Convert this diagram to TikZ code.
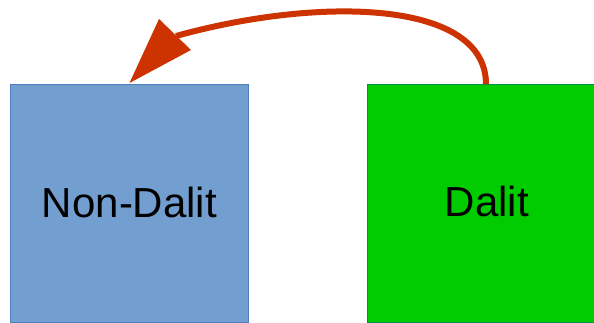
\documentclass[tikz,border=0pt]{standalone}
\usepackage{fontspec}
\setmainfont{Liberation Sans}
\definecolor{boxblue}{RGB}{114,159,207}
\definecolor{boxblueedge}{RGB}{80,125,190}
\definecolor{boxgreen}{RGB}{0,204,0}
\definecolor{arrowred}{RGB}{204,51,0}
\begin{document}
\begin{tikzpicture}[x=1pt,y=-1pt,
  box/.style={rectangle, inner sep=0pt, outer sep=0pt, line width=0.8pt},
  lbl/.style={font=\fontsize{42}{48}\selectfont, text=black, anchor=base, inner sep=0pt},
  conn/.style={draw=arrowred, line width=6pt},
  head/.style={fill=arrowred, draw=none}]
\useasboundingbox (0,0) rectangle (594,322);
\fill[white] (0,0) rectangle (594,322);
\node[box, fill=boxblue, draw=boxblueedge, minimum width=238pt, minimum height=238pt] (nondalit) at (129,203) {};
\node[box, fill=boxgreen, draw=boxgreen!70!blue, minimum width=227pt, minimum height=238pt] (dalit) at (481,203.2) {};
\node[lbl] (ndl) at (129.5,217) {Non-Dalit};
\node[lbl] (dl) at (487,216.5) {Dalit};
\coordinate (start) at ([xshift=5pt]dalit.north);
\coordinate (base) at (176,36);
\coordinate (tip) at (129.5,83);
\draw[conn] (start) .. controls (486,0) and (320,-4) .. (base);
\fill[head] (tip) -- (159,19) -- (191,50) -- cycle;
\end{tikzpicture}
\end{document}
